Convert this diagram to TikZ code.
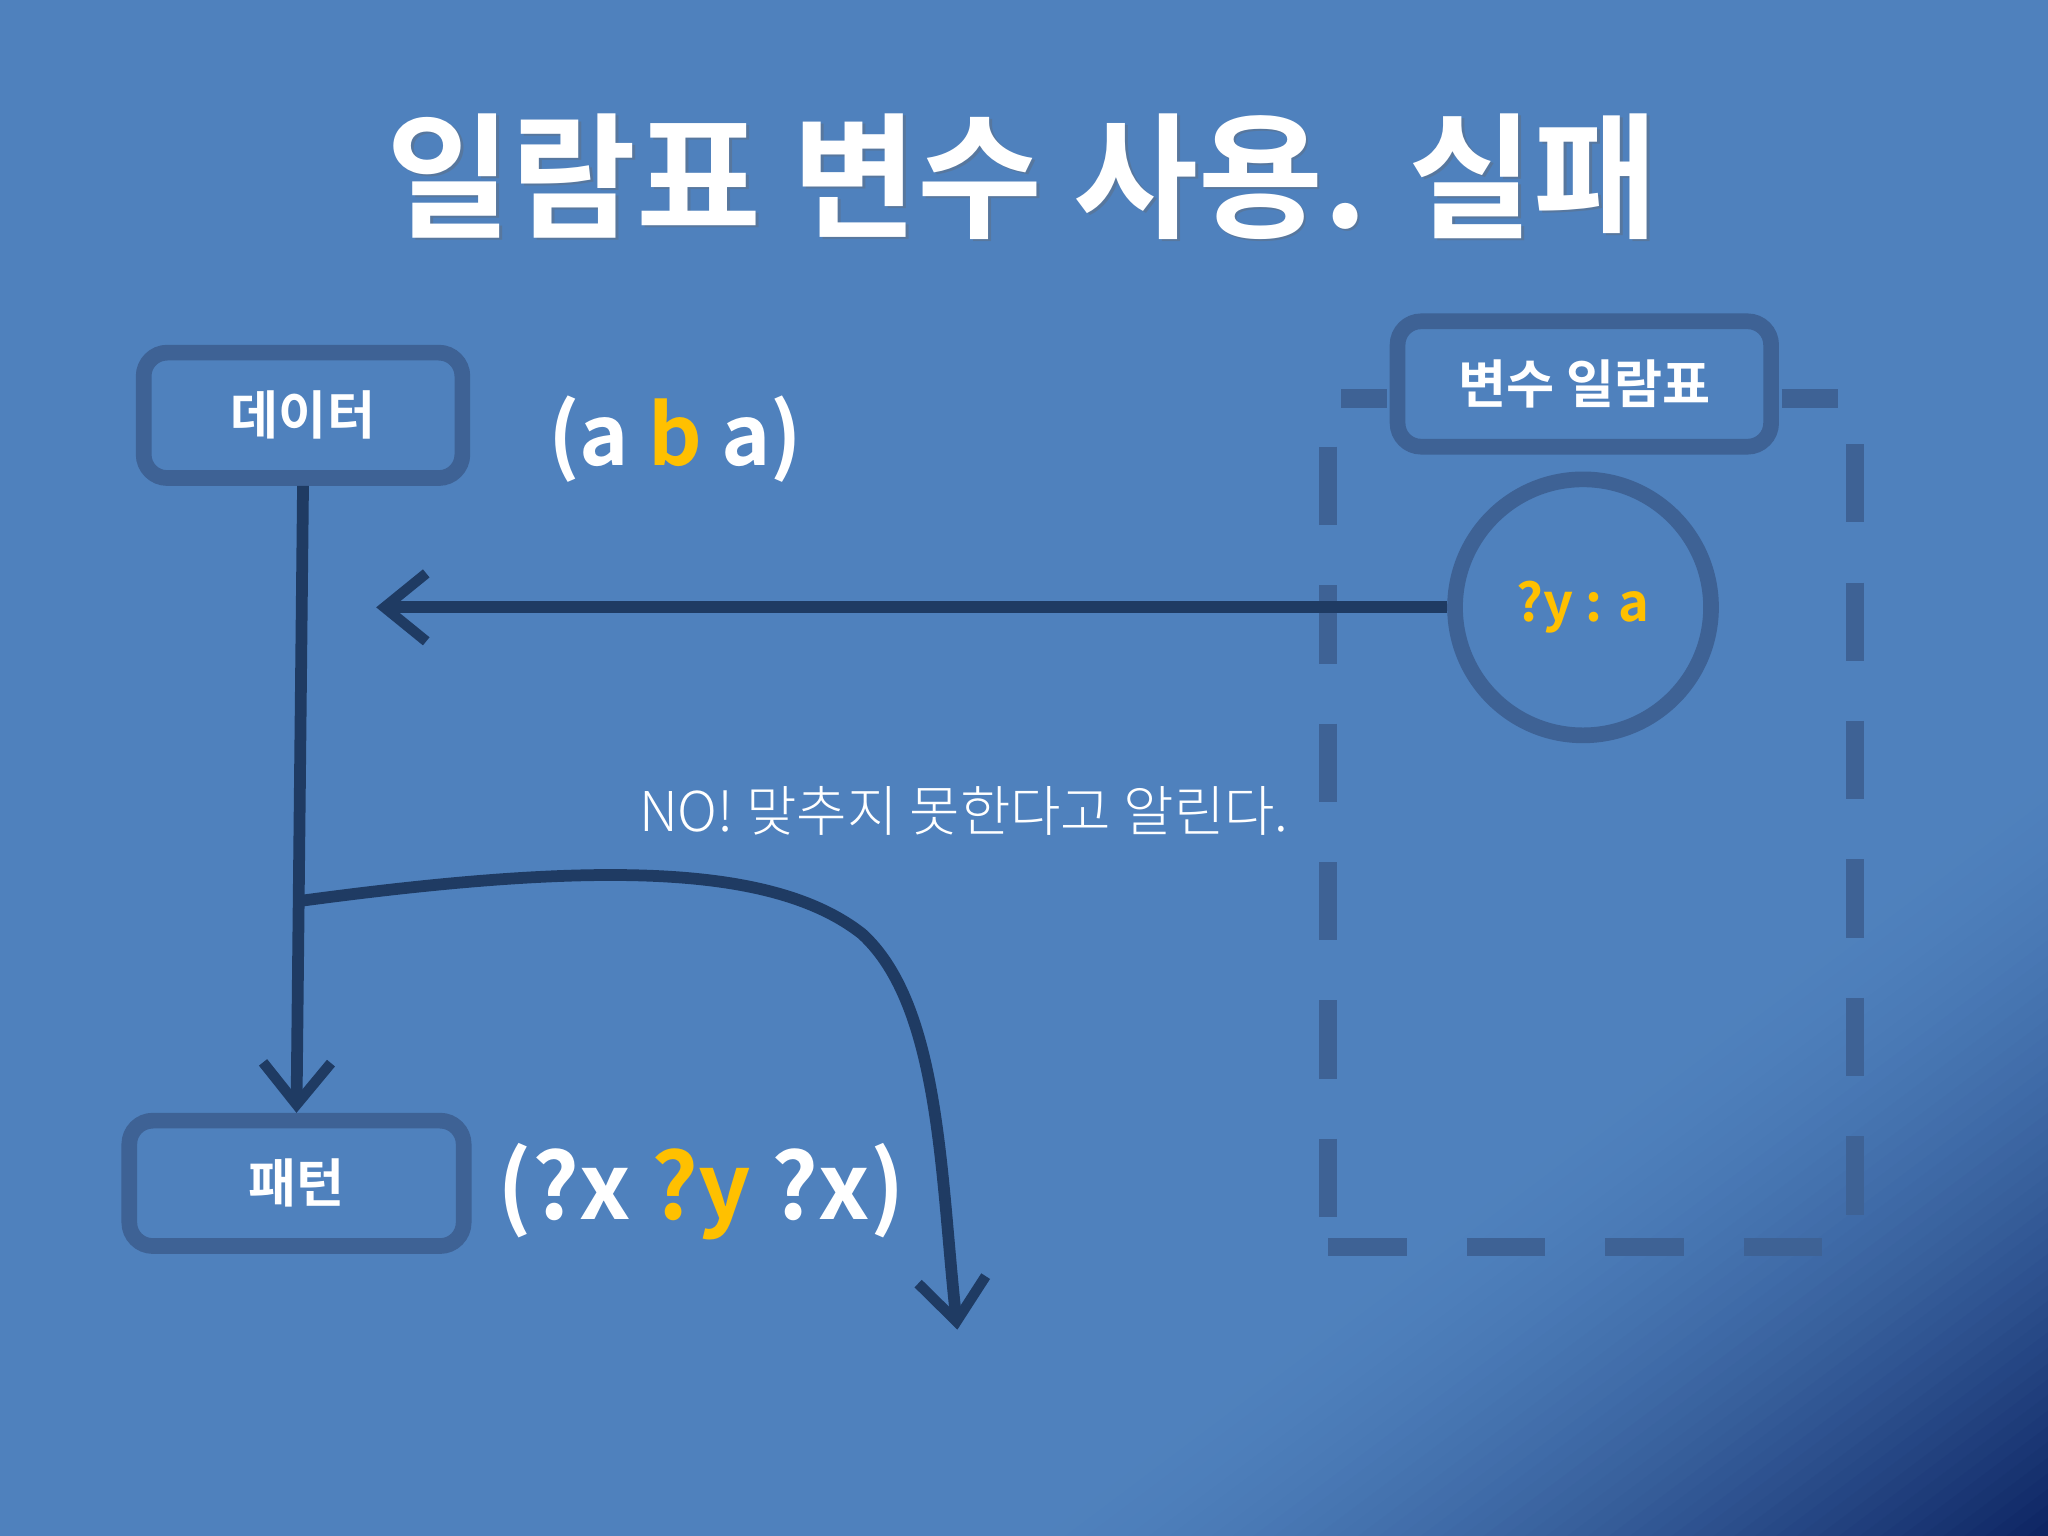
\documentclass[tikz,border=0pt]{standalone}
\usepackage{fontspec}
\setmainfont{Noto Sans CJK KR}
\newfontfamily\kb{Noto Sans CJK KR Bold}
\newfontfamily\kl{Noto Sans CJK KR Light}
\usetikzlibrary{arrows.meta}
\definecolor{bg}{HTML}{4F81BD}
\definecolor{navy}{HTML}{0C2260}
\definecolor{bord}{HTML}{3E6295}
\definecolor{arr}{HTML}{1F3B63}
\definecolor{yel}{HTML}{FFC000}
\tikzset{
 box/.style={draw=bord,line width=6pt,rounded corners=9pt,fill=bg,text=white,font=\kb\fontsize{20}{22}\selectfont},
 conn/.style={draw=arr,line width=4.5pt,-{Straight Barb[length=16pt,width=26pt,line width=4pt]}},
 dsh/.style={bord,line width=7pt,dash pattern=on 30pt off 23pt}
}
\begin{document}
\begin{tikzpicture}[x=0.5pt,y=-0.5pt]
\useasboundingbox (0,0) rectangle (1568,1176);
\fill[bg] (0,0) rectangle (1568,1176);
\foreach \i in {0,...,49}{
  \pgfmathsetmacro{\t}{1-\i/50}
  \pgfmathsetmacro{\m}{100*(1-\t)^1.6}
  \fill[navy!\m!bg] ({1568-\t*800},1176) -- (1568,{1176-\t*600}) -- (1568,1176) -- cycle;
}
\node[font=\kb\fontsize{52}{60}\selectfont,text=black!60,opacity=0.35] at (785,137) {일람표 변수 사용. 실패};
\node[font=\kb\fontsize{52}{60}\selectfont,text=white] (title) at (783,135) {일람표 변수 사용. 실패};
\draw[dsh] (1017,342) -- (1017,955);
\draw[dsh] (1017,955) -- (1420,955);
\draw[dsh] (1420,340) -- (1420,955);
\draw[bord,line width=7pt] (1027,305) -- (1062,305) (1364,305) -- (1407,305);
\node[box,minimum width=143pt,minimum height=48pt] (vt) at (1213,294) {변수 일람표};
\node[box,minimum width=122pt,minimum height=48pt] (data) at (232,318) {데이터};
\node[box,minimum width=128pt,minimum height=48pt] (pat) at (227,906) {패턴};
\node[circle,draw=bord,line width=6pt,minimum size=98pt,font=\kb\fontsize{20}{22}\selectfont,text=yel] (var) at (1212,465) {?y : a};
\coordinate (tip) at (288,465);
\coordinate (split) at (228,690);
\coordinate (end) at (733,1018);
\draw[conn] (var.west) -- (tip);
\draw[conn] (data.south) -- (pat.north);
\draw[conn] (split) .. controls (450,660) and (590,660) .. (660,715) .. controls (720,770) and (720,900) .. (end);
\node[font=\kb\fontsize{32}{36}\selectfont,text=white] (dtxt) at (517,336) {(a \textcolor{yel}{b} a)};
\node[font=\kb\fontsize{35}{40}\selectfont,text=white] (ptxt) at (537,912) {(?x \textcolor{yel}{?y} ?x)};
\node[font=\kl\fontsize{21}{24}\selectfont,text=white] (msg) at (738,621) {NO! 맞추지 못한다고 알린다.};
\end{tikzpicture}
\end{document}
